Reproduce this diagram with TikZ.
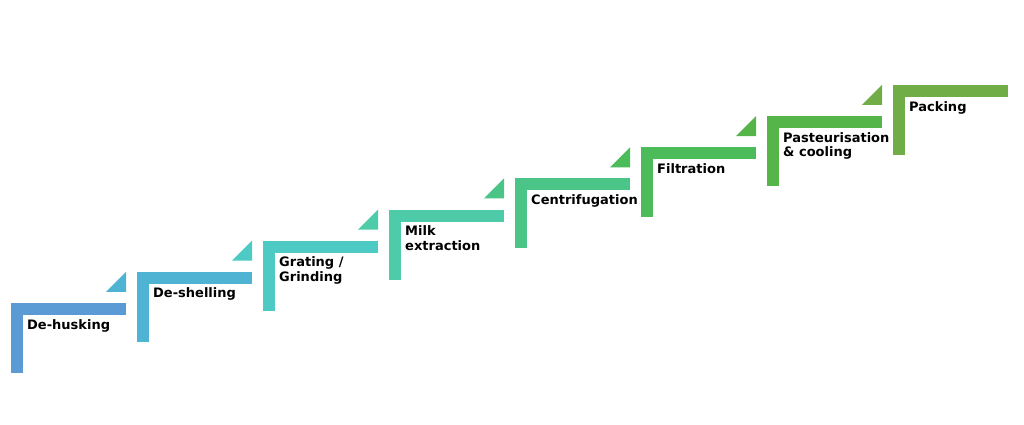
\documentclass[tikz,border=0pt]{standalone}
\usepackage{fontspec}
\setmainfont{DejaVu Sans}
\begin{document}
\begin{tikzpicture}[x=1pt,y=-1pt,
  lbl/.style={anchor=north west,inner sep=0pt,font=\bfseries\fontsize{13}{14.5}\selectfont,align=left}]
\useasboundingbox (0,0) rectangle (1024,425);
\definecolor{c1}{HTML}{5B9BD5}\definecolor{c2}{HTML}{4FB3D3}
\definecolor{c3}{HTML}{4ECAC4}\definecolor{c4}{HTML}{4ECBA8}
\definecolor{c5}{HTML}{4BC487}\definecolor{c6}{HTML}{4CBB5A}
\definecolor{c7}{HTML}{55B548}\definecolor{c8}{HTML}{70AD47}
\foreach \i/\t in {1/De-husking,2/De-shelling,3/{Grating /\\Grinding},4/{Milk\\extraction},5/Centrifugation,6/Filtration,7/{Pasteurisation\\\& cooling},8/Packing}{
  \pgfmathsetmacro\x{11+126*(\i-1)}
  \pgfmathsetmacro\y{303-31.15*(\i-1)}
  \fill[c\i] (\x,\y) rectangle ++(115,12);
  \fill[c\i] (\x,\y) rectangle ++(12,70);
  \ifnum\i>1 \fill[c\i] (\x-31,\y+20) -- (\x-11,\y+20) -- (\x-11,\y) -- cycle; \fi
  \node[lbl] (s\i) at (\x+16,\y+16) {\t};
}
\end{tikzpicture}
\end{document}
